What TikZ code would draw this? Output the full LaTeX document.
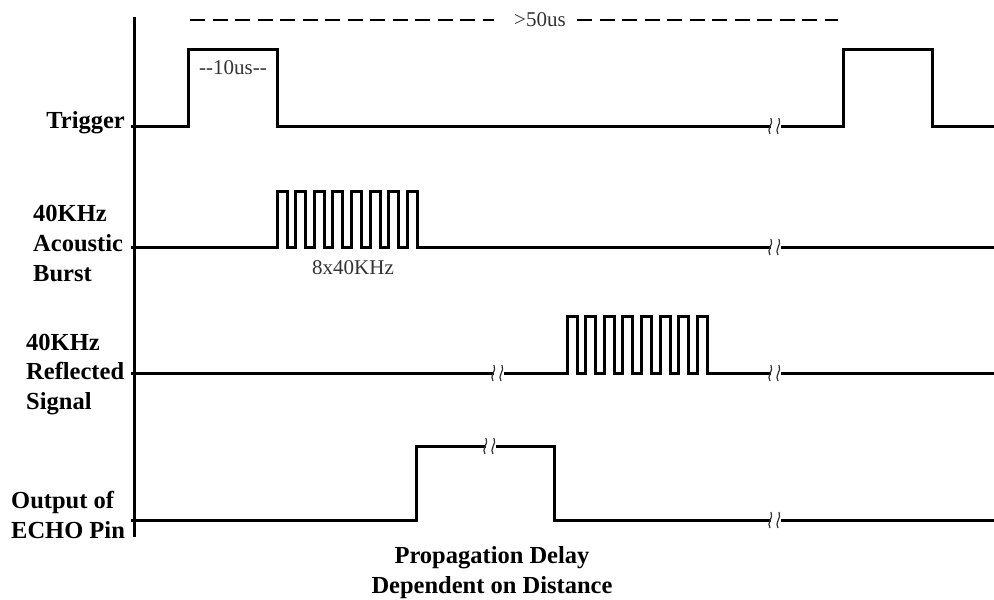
\documentclass[tikz,border=0pt]{standalone}
\usepackage{fontspec}
\setmainfont{Liberation Serif}
\definecolor{txtgray}{HTML}{333333}
\begin{document}
\begin{tikzpicture}[x=1pt,y=-1pt,
  sig/.style={line width=3pt, line join=miter, line cap=butt},
  lbl/.style={font=\fontsize{24.5}{30}\selectfont\bfseries, inner sep=0},
  small/.style={font=\fontsize{21}{22}\selectfont, text=txtgray, inner sep=1pt},
  brkline/.style={line width=1.2pt, draw=black!80}]
\useasboundingbox (0,0) rectangle (994,600);
\fill[white] (0,0) rectangle (994,600);

% axis
\coordinate (axtop) at (134,17);
\coordinate (axbot) at (134,537);
\draw[line width=3pt] (axtop) -- (axbot);

% labels
\node[lbl, anchor=base east] (ltrig) at (125,128) {Trigger};
\node[lbl, anchor=base west] (la1) at (33,221) {40KHz};
\node[lbl, anchor=base west] (la2) at (33,251) {Acoustic};
\node[lbl, anchor=base west] (la3) at (33,281) {Burst};
\node[lbl, anchor=base west] (lr1) at (26,350) {40KHz};
\node[lbl, anchor=base west] (lr2) at (26,379) {Reflected};
\node[lbl, anchor=base west] (lr3) at (26,409) {Signal};
\node[lbl, anchor=base west] (lo1) at (11,508) {Output of};
\node[lbl, anchor=base west] (lo2) at (11,538) {ECHO Pin};
\node[lbl, anchor=base] (lb1) at (492,563) {Propagation Delay};
\node[lbl, anchor=base] (lb2) at (492,593) {Dependent on Distance};

% dashed >50us
\node[small, inner xsep=0pt] (t50) at (540,20) {>50us};
\coordinate (d0) at (190,20);
\coordinate (d1) at (838,20);
\coordinate (g0) at (494,20);
\coordinate (g1) at (577,20);
\draw[line width=1.5pt, dash pattern=on 15pt off 7.5pt] (d0) -- (g0);
\draw[line width=1.5pt, dash pattern=on 15pt off 7.5pt] (g1) -- (d1);

% trigger
\draw[sig] (131,126) -- (188,126) -- (188,49) -- (277,49) -- (277,126) -- (843,126) -- (843,49) -- (932,49) -- (932,126) -- (994,126);
\node[small] (t10) at (233,68) {{-}{-}10us{-}{-}};

% acoustic burst
\draw[sig] (131,247) -- (277,247)
  \foreach \i in {0,...,7} { -- ({277+18.6*\i},247) -- ({277+18.6*\i},191) -- ({277+18.6*\i+10},191) -- ({277+18.6*\i+10},247) }
  -- (994,247);
\node[small] (t8) at (353,268) {8x40KHz};

% reflected
\draw[sig] (131,373) -- (567,373)
  \foreach \i in {0,...,7} { -- ({567+18.6*\i},373) -- ({567+18.6*\i},316) -- ({567+18.6*\i+10},316) -- ({567+18.6*\i+10},373) }
  -- (994,373);

% echo
\draw[sig] (131,520) -- (416,520) -- (416,446) -- (554,446) -- (554,520) -- (994,520);

% break marks
\newcommand{\brkmark}[2]{%
  \fill[white] (#1-5,#2-3) rectangle (#1+5,#2+3);
  \draw[brkline] (#1-6,#2+8) .. controls (#1-10,#2+3) and (#1-2,#2-2) .. (#1-5,#2-8);
  \draw[brkline] (#1+2,#2+8) .. controls (#1-2,#2+3) and (#1+6,#2-2) .. (#1+3,#2-8);
}
\brkmark{776}{126}
\brkmark{776}{247}
\brkmark{499}{373}
\brkmark{776}{373}
\brkmark{491}{446}
\brkmark{776}{520}
\end{tikzpicture}
\end{document}
